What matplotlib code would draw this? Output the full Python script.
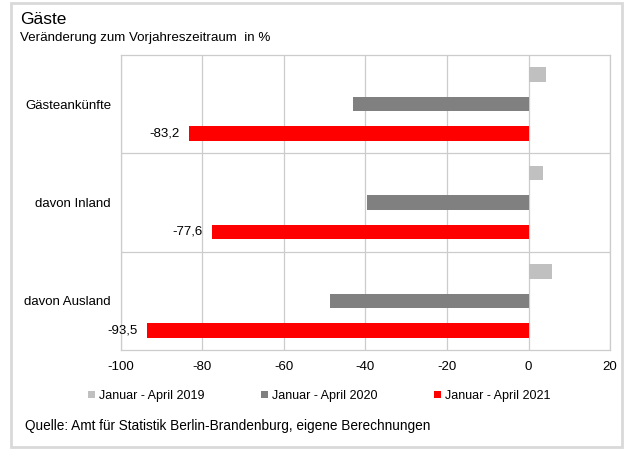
import numpy as np
import matplotlib
matplotlib.use("Agg")
import matplotlib.pyplot as plt
from matplotlib.patches import Rectangle, Patch

plt.rcParams['font.family'] = ['Liberation Sans', 'DejaVu Sans']

categories = ["Gästeankünfte", "davon Inland", "davon Ausland"]
series_names = ["Januar - April 2019", "Januar - April 2020", "Januar - April 2021"]
v2019 = [4.3, 3.6, 5.7]
v2020 = [-43.0, -39.7, -48.6]
v2021 = [-83.2, -77.6, -93.5]
colors = ["#c0c0c0", "#808080", "#ff0000"]
xticks = [-100, -80, -60, -40, -20, 0, 20]


def fmt(v):
    return f"{v:.1f}".replace(".", ",")


def main():
    fig = plt.figure(figsize=(6.29, 4.54), dpi=100)
    ax = fig.add_axes([0.192, 0.229, 0.778, 0.650])

    y = np.arange(len(categories))
    h = 0.148
    off = 0.3
    for i, (vals, c, name) in enumerate(zip([v2019, v2020, v2021], colors, series_names)):
        ax.barh(y + (i - 1) * off, vals, height=h, color=c, label=name, zorder=3)

    # labels on the 2021 bars
    for yi, v in zip(y, v2021):
        ax.annotate(fmt(v), (v, yi + off), xytext=(-7, 0), textcoords="offset points",
                    ha="right", va="center", fontsize=9.5)

    ax.set_xlim(-100, 20)
    ax.set_ylim(2.5, -0.5)
    ax.set_xticks(xticks)
    ax.set_xticklabels([str(t) for t in xticks])
    ax.set_yticks(y)
    ax.set_yticklabels(categories)
    ax.set_yticks([0.5, 1.5], minor=True)
    ax.tick_params(axis="both", which="both", length=0, labelsize=9.5)
    ax.tick_params(axis="x", pad=8)
    ax.tick_params(axis="y", pad=7)

    grid_c = "#cccccc"
    ax.grid(axis="x", color=grid_c, linewidth=0.9, zorder=0)
    ax.grid(axis="y", which="minor", color=grid_c, linewidth=0.9, zorder=0)
    for s in ax.spines.values():
        s.set_color(grid_c)
        s.set_linewidth(0.9)

    handles = [Patch(facecolor=c, edgecolor="none") for c in colors]
    fig.legend(handles, series_names, loc="center", bbox_to_anchor=(0.508, 0.128),
               ncol=3, frameon=False, fontsize=9, handlelength=0.55, handleheight=0.55,
               handletextpad=0.3, columnspacing=4.55)

    fig.text(20 / 629, 1 - 19 / 454, "Gäste", fontsize=12.5, va="center", ha="left")
    fig.text(20 / 629, 1 - 38 / 454, "Veränderung zum Vorjahreszeitraum  in %",
             fontsize=9.6, va="center", ha="left")
    fig.text(25 / 629, 1 - 426 / 454,
             "Quelle: Amt für Statistik Berlin-Brandenburg, eigene Berechnungen",
             fontsize=9.8, va="center", ha="left")

    # outer frame
    fig.patches.append(Rectangle((11 / 629, 1 - 447 / 454), 611 / 629, 444 / 454,
                                 transform=fig.transFigure, fill=False,
                                 edgecolor="#d9d9d9", linewidth=2))

    fig.savefig("out.png", dpi=100)


if __name__ == "__main__":
    main()
